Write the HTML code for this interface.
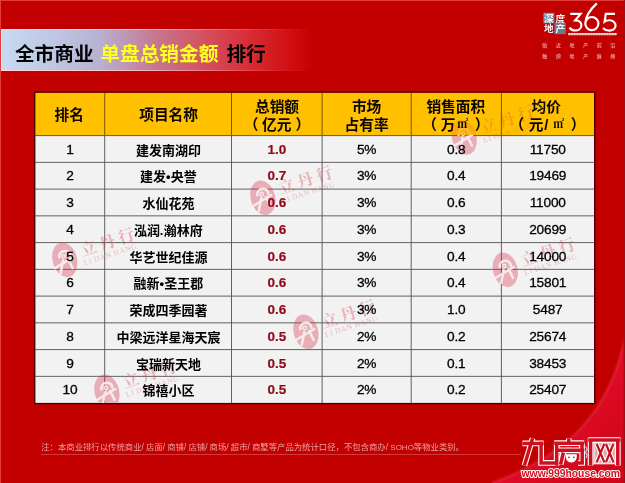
<!DOCTYPE html>
<html lang="zh"><head><meta charset="utf-8"><title>全市商业 单盘总销金额 排行</title>
<style>
html,body{margin:0;padding:0;background:#c20000;}
body{width:625px;height:483px;overflow:hidden;position:relative;font-family:"Liberation Sans",sans-serif;}
#page{position:absolute;left:0;top:0;width:625px;height:483px;overflow:hidden;background:#c20000;}
#page svg{position:absolute;left:0;top:0;}
.banner{position:absolute;left:0.6px;top:28.7px;width:314px;height:42.6px;box-sizing:border-box;
 background:linear-gradient(90deg,rgb(200,218,240) 0%,rgb(190,200,228) 16%,rgb(184,176,208) 32%,rgb(197,122,148) 48%,rgb(212,82,98) 64%,rgb(216,42,50) 80%,rgb(208,10,14) 94%,rgb(194,0,0) 100%);}
.banner:before{content:"";position:absolute;left:0;top:0;right:0;bottom:0;border:1.2px solid;border-right:0;
 border-image:linear-gradient(90deg,rgba(255,215,225,1) 0%,rgba(255,195,205,.95) 40%,rgba(248,120,130,.6) 72%,rgba(235,60,70,.25) 88%,rgba(230,60,60,0) 97%) 1;}
.t{position:absolute;margin:0;color:transparent;font-weight:bold;white-space:nowrap;text-align:center;overflow:hidden;}
.th{font-size:14.7px;line-height:18px;}
.td{font-size:13px;line-height:26px;}
#nums{position:absolute;left:0;top:0;width:625px;height:483px;will-change:transform;}
.n{position:absolute;text-align:center;font-size:13.7px;letter-spacing:-0.2px;color:#000;white-space:nowrap;-webkit-text-stroke:0.3px #000;}
.n.b{font-weight:bold;color:#8e0a1a;font-size:13.5px;letter-spacing:0px;-webkit-text-stroke:0.2px #8e0a1a;}
</style></head><body>
<div id="page">
<svg width="625" height="483" viewBox="0 0 625 483"><defs><filter id="bl2"><feGaussianBlur stdDeviation="0.8"/></filter>
<linearGradient id="sw" x1="0.15" y1="0.1" x2="1" y2="1"><stop offset="0" stop-color="#ee1432" stop-opacity="1"/><stop offset="0.45" stop-color="#e20c28" stop-opacity="0.95"/><stop offset="1" stop-color="#d0061a" stop-opacity="0.85"/></linearGradient>
</defs>
<rect width="625" height="483" fill="#c20000"/>
<path d="M625 337 C 618 372, 604 404, 580 429 C 554 456, 522 472, 492 483 L625 483 Z" fill="url(#sw)"/><path d="M625 337 C 618 372, 604 404, 580 429 C 554 456, 522 472, 492 483" fill="none" stroke="#f05060" stroke-width="1.6" opacity="0.5" filter="url(#bl2)"/>
<rect x="0" y="0" width="625" height="1" fill="#e23c3c"/>
<rect x="0" y="0" width="1" height="483" fill="#e23c3c"/>
<rect x="623.6" y="0" width="1.4" height="483" fill="#99101a"/>
<rect x="41" y="454.1" width="480" height="0.9" fill="#e05050" opacity="0.8"/>
</svg>
<div class="banner"></div>
<svg width="625" height="483" viewBox="0 0 625 483"><rect x="35.20" y="92.60" width="558.80" height="43.00" fill="#ffc000"/><rect x="35.20" y="135.60" width="558.80" height="267.50" fill="#f2f2f2"/><line x1="104.70" y1="92.60" x2="104.70" y2="135.60" stroke="#6e5200" stroke-width="0.95"/><line x1="104.70" y1="135.60" x2="104.70" y2="403.10" stroke="#585858" stroke-width="0.95"/><line x1="231.50" y1="92.60" x2="231.50" y2="135.60" stroke="#6e5200" stroke-width="0.95"/><line x1="231.50" y1="135.60" x2="231.50" y2="403.10" stroke="#585858" stroke-width="0.95"/><line x1="322.10" y1="92.60" x2="322.10" y2="135.60" stroke="#6e5200" stroke-width="0.95"/><line x1="322.10" y1="135.60" x2="322.10" y2="403.10" stroke="#585858" stroke-width="0.95"/><line x1="411.20" y1="92.60" x2="411.20" y2="135.60" stroke="#6e5200" stroke-width="0.95"/><line x1="411.20" y1="135.60" x2="411.20" y2="403.10" stroke="#585858" stroke-width="0.95"/><line x1="501.40" y1="92.60" x2="501.40" y2="135.60" stroke="#6e5200" stroke-width="0.95"/><line x1="501.40" y1="135.60" x2="501.40" y2="403.10" stroke="#585858" stroke-width="0.95"/><line x1="35.20" y1="135.60" x2="594.00" y2="135.60" stroke="#585858" stroke-width="0.95"/><line x1="35.20" y1="162.35" x2="594.00" y2="162.35" stroke="#585858" stroke-width="0.95"/><line x1="35.20" y1="189.10" x2="594.00" y2="189.10" stroke="#585858" stroke-width="0.95"/><line x1="35.20" y1="215.85" x2="594.00" y2="215.85" stroke="#585858" stroke-width="0.95"/><line x1="35.20" y1="242.60" x2="594.00" y2="242.60" stroke="#585858" stroke-width="0.95"/><line x1="35.20" y1="269.35" x2="594.00" y2="269.35" stroke="#585858" stroke-width="0.95"/><line x1="35.20" y1="296.10" x2="594.00" y2="296.10" stroke="#585858" stroke-width="0.95"/><line x1="35.20" y1="322.85" x2="594.00" y2="322.85" stroke="#585858" stroke-width="0.95"/><line x1="35.20" y1="349.60" x2="594.00" y2="349.60" stroke="#585858" stroke-width="0.95"/><line x1="35.20" y1="376.35" x2="594.00" y2="376.35" stroke="#585858" stroke-width="0.95"/><rect x="34.60" y="92.00" width="560.20" height="311.60" fill="none" stroke="#4a0000" stroke-width="1.4"/><clipPath id="tc"><rect x="35.20" y="135.60" width="558.80" height="267.00"/></clipPath><clipPath id="th"><rect x="35.20" y="92.60" width="558.80" height="43.00"/></clipPath><g clip-path="url(#tc)"><g fill="#d7324a" fill-opacity="0.36"><g transform="translate(464.3 136.6) rotate(-18)"><use href="#wm"/><use href="#wml"/></g><use href="#wme" x="464.3" y="136.6"/><g transform="translate(263.0 197.0) rotate(-18)"><use href="#wm"/><use href="#wml"/></g><use href="#wme" x="263.0" y="197.0"/><g transform="translate(64.9 259.1) rotate(-18)"><use href="#wm"/><use href="#wml"/></g><use href="#wme" x="64.9" y="259.1"/><g transform="translate(505.4 269.0) rotate(-18)"><use href="#wm"/><use href="#wml"/></g><use href="#wme" x="505.4" y="269.0"/><g transform="translate(306.0 331.0) rotate(-18)"><use href="#wm"/><use href="#wml"/></g><use href="#wme" x="306.0" y="331.0"/><g transform="translate(107.0 391.0) rotate(-18)"><use href="#wm"/><use href="#wml"/></g><use href="#wme" x="107.0" y="391.0"/></g><g opacity="0.9"><use href="#wmw" x="464.3" y="136.6"/><use href="#wmw" x="263.0" y="197.0"/><use href="#wmw" x="64.9" y="259.1"/><use href="#wmw" x="505.4" y="269.0"/><use href="#wmw" x="306.0" y="331.0"/><use href="#wmw" x="107.0" y="391.0"/></g></g><g clip-path="url(#th)"><g fill="#e04030" fill-opacity="0.17"><g transform="translate(464.3 136.6) rotate(-18)"><use href="#wm"/><use href="#wml"/></g><use href="#wme" x="464.3" y="136.6"/></g><g fill="#e04030" fill-opacity="0.14"><g transform="translate(464.3 136.6) rotate(-18)"><use href="#wm"/><use href="#wml"/></g></g><g opacity="0.25"><use href="#wmw" x="464.3" y="136.6"/></g></g></svg>

<div id="nums">
<h1 class="t" style="left:14px;top:41px;font-size:19.6px">全市商业 单盘总销金额 排行</h1>
<div class="t th" style="left:35.2px;top:92.6px;width:69.5px;height:43.0px">排名</div>
<div class="t th" style="left:104.7px;top:92.6px;width:126.8px;height:43.0px">项目名称</div>
<div class="t th" style="left:231.5px;top:92.6px;width:90.6px;height:43.0px">总销额<br>（亿元）</div>
<div class="t th" style="left:322.1px;top:92.6px;width:89.1px;height:43.0px">市场<br>占有率</div>
<div class="t th" style="left:411.2px;top:92.6px;width:90.2px;height:43.0px">销售面积<br>（万㎡）</div>
<div class="t th" style="left:501.4px;top:92.6px;width:92.6px;height:43.0px">均价<br>（元/㎡）</div>
<div class="n" style="left:35.2px;top:135.6px;width:69.5px;height:26.8px;line-height:27.9px">1</div>
<div class="t td" style="left:104.7px;top:135.6px;width:126.8px;height:26.8px">建发南湖印</div>
<div class="n b" style="left:231.5px;top:135.6px;width:90.6px;height:26.8px;line-height:27.9px">1.0</div>
<div class="n" style="left:322.1px;top:135.6px;width:89.1px;height:26.8px;line-height:27.9px">5%</div>
<div class="n" style="left:411.2px;top:135.6px;width:90.2px;height:26.8px;line-height:27.9px">0.8</div>
<div class="n" style="left:501.4px;top:135.6px;width:92.6px;height:26.8px;line-height:27.9px">11750</div>
<div class="n" style="left:35.2px;top:162.3px;width:69.5px;height:26.8px;line-height:27.9px">2</div>
<div class="t td" style="left:104.7px;top:162.3px;width:126.8px;height:26.8px">建发•央誉</div>
<div class="n b" style="left:231.5px;top:162.3px;width:90.6px;height:26.8px;line-height:27.9px">0.7</div>
<div class="n" style="left:322.1px;top:162.3px;width:89.1px;height:26.8px;line-height:27.9px">3%</div>
<div class="n" style="left:411.2px;top:162.3px;width:90.2px;height:26.8px;line-height:27.9px">0.4</div>
<div class="n" style="left:501.4px;top:162.3px;width:92.6px;height:26.8px;line-height:27.9px">19469</div>
<div class="n" style="left:35.2px;top:189.1px;width:69.5px;height:26.8px;line-height:27.9px">3</div>
<div class="t td" style="left:104.7px;top:189.1px;width:126.8px;height:26.8px">水仙花苑</div>
<div class="n b" style="left:231.5px;top:189.1px;width:90.6px;height:26.8px;line-height:27.9px">0.6</div>
<div class="n" style="left:322.1px;top:189.1px;width:89.1px;height:26.8px;line-height:27.9px">3%</div>
<div class="n" style="left:411.2px;top:189.1px;width:90.2px;height:26.8px;line-height:27.9px">0.6</div>
<div class="n" style="left:501.4px;top:189.1px;width:92.6px;height:26.8px;line-height:27.9px">11000</div>
<div class="n" style="left:35.2px;top:215.8px;width:69.5px;height:26.8px;line-height:27.9px">4</div>
<div class="t td" style="left:104.7px;top:215.8px;width:126.8px;height:26.8px">泓润.瀚林府</div>
<div class="n b" style="left:231.5px;top:215.8px;width:90.6px;height:26.8px;line-height:27.9px">0.6</div>
<div class="n" style="left:322.1px;top:215.8px;width:89.1px;height:26.8px;line-height:27.9px">3%</div>
<div class="n" style="left:411.2px;top:215.8px;width:90.2px;height:26.8px;line-height:27.9px">0.3</div>
<div class="n" style="left:501.4px;top:215.8px;width:92.6px;height:26.8px;line-height:27.9px">20699</div>
<div class="n" style="left:35.2px;top:242.6px;width:69.5px;height:26.8px;line-height:27.9px">5</div>
<div class="t td" style="left:104.7px;top:242.6px;width:126.8px;height:26.8px">华艺世纪佳源</div>
<div class="n b" style="left:231.5px;top:242.6px;width:90.6px;height:26.8px;line-height:27.9px">0.6</div>
<div class="n" style="left:322.1px;top:242.6px;width:89.1px;height:26.8px;line-height:27.9px">3%</div>
<div class="n" style="left:411.2px;top:242.6px;width:90.2px;height:26.8px;line-height:27.9px">0.4</div>
<div class="n" style="left:501.4px;top:242.6px;width:92.6px;height:26.8px;line-height:27.9px">14000</div>
<div class="n" style="left:35.2px;top:269.4px;width:69.5px;height:26.8px;line-height:27.9px">6</div>
<div class="t td" style="left:104.7px;top:269.4px;width:126.8px;height:26.8px">融新•圣王郡</div>
<div class="n b" style="left:231.5px;top:269.4px;width:90.6px;height:26.8px;line-height:27.9px">0.6</div>
<div class="n" style="left:322.1px;top:269.4px;width:89.1px;height:26.8px;line-height:27.9px">3%</div>
<div class="n" style="left:411.2px;top:269.4px;width:90.2px;height:26.8px;line-height:27.9px">0.4</div>
<div class="n" style="left:501.4px;top:269.4px;width:92.6px;height:26.8px;line-height:27.9px">15801</div>
<div class="n" style="left:35.2px;top:296.1px;width:69.5px;height:26.8px;line-height:27.9px">7</div>
<div class="t td" style="left:104.7px;top:296.1px;width:126.8px;height:26.8px">荣成四季园著</div>
<div class="n b" style="left:231.5px;top:296.1px;width:90.6px;height:26.8px;line-height:27.9px">0.6</div>
<div class="n" style="left:322.1px;top:296.1px;width:89.1px;height:26.8px;line-height:27.9px">3%</div>
<div class="n" style="left:411.2px;top:296.1px;width:90.2px;height:26.8px;line-height:27.9px">1.0</div>
<div class="n" style="left:501.4px;top:296.1px;width:92.6px;height:26.8px;line-height:27.9px">5487</div>
<div class="n" style="left:35.2px;top:322.9px;width:69.5px;height:26.8px;line-height:27.9px">8</div>
<div class="t td" style="left:104.7px;top:322.9px;width:126.8px;height:26.8px">中梁远洋星海天宸</div>
<div class="n b" style="left:231.5px;top:322.9px;width:90.6px;height:26.8px;line-height:27.9px">0.5</div>
<div class="n" style="left:322.1px;top:322.9px;width:89.1px;height:26.8px;line-height:27.9px">2%</div>
<div class="n" style="left:411.2px;top:322.9px;width:90.2px;height:26.8px;line-height:27.9px">0.2</div>
<div class="n" style="left:501.4px;top:322.9px;width:92.6px;height:26.8px;line-height:27.9px">25674</div>
<div class="n" style="left:35.2px;top:349.6px;width:69.5px;height:26.8px;line-height:27.9px">9</div>
<div class="t td" style="left:104.7px;top:349.6px;width:126.8px;height:26.8px">宝瑞新天地</div>
<div class="n b" style="left:231.5px;top:349.6px;width:90.6px;height:26.8px;line-height:27.9px">0.5</div>
<div class="n" style="left:322.1px;top:349.6px;width:89.1px;height:26.8px;line-height:27.9px">2%</div>
<div class="n" style="left:411.2px;top:349.6px;width:90.2px;height:26.8px;line-height:27.9px">0.1</div>
<div class="n" style="left:501.4px;top:349.6px;width:92.6px;height:26.8px;line-height:27.9px">38453</div>
<div class="n" style="left:35.2px;top:376.4px;width:69.5px;height:26.8px;line-height:27.9px">10</div>
<div class="t td" style="left:104.7px;top:376.4px;width:126.8px;height:26.8px">锦禧小区</div>
<div class="n b" style="left:231.5px;top:376.4px;width:90.6px;height:26.8px;line-height:27.9px">0.5</div>
<div class="n" style="left:322.1px;top:376.4px;width:89.1px;height:26.8px;line-height:27.9px">2%</div>
<div class="n" style="left:411.2px;top:376.4px;width:90.2px;height:26.8px;line-height:27.9px">0.2</div>
<div class="n" style="left:501.4px;top:376.4px;width:92.6px;height:26.8px;line-height:27.9px">25407</div>
<p class="t" style="left:41px;top:440px;font-size:7.6px">注：本商业排行以传统商业/店面/商铺/店铺/商场/超市/商墅等产品为统计口径，不包含商办/SOHO等物业类别。</p>
</div>
<svg width="625" height="483" viewBox="0 0 625 483"><defs><filter id="bl" x="-5%" y="-20%" width="110%" height="140%"><feGaussianBlur stdDeviation="0.7"/></filter><g id="wm"><text x="17.53 37.27 57.22" y="3" font-family="'Liberation Serif','Noto Serif CJK SC',serif" font-weight="bold" font-size="16.5">立丹行</text></g><g id="wme"><ellipse cx="-0.3" cy="0.7" rx="12.2" ry="17.6" transform="rotate(-15)"/></g><g id="wmw" transform="translate(-0.4 0.9)" fill="none" stroke="#f6f2f2" stroke-width="2.5" stroke-linecap="round" stroke-linejoin="round"><path d="M-9.5 8.1 L8.6 -2.9"/><path d="M-5.3 -2.6 C-5.6 -6 -3.6 -8.8 -0.3 -9.1 C2.6 -9.3 5.2 -8 5.9 -4.2"/><circle cx="-0.9" cy="-3.9" r="1.7" stroke-width="1.5"/><path d="M-1.4 0.2 L-3.8 13.2"/><path d="M3.6 -0.8 L8 8"/></g><g id="wml"><text x="17 22.27 27.68 33.78 39.87 48.17 54.26 60.35 66.45" y="12" font-family="'Liberation Serif',serif" font-size="7.39">LIDANHANG</text></g></defs><g fill="#000" font-family="'Liberation Sans','Noto Sans CJK SC',sans-serif" font-weight="bold" font-size="19.7"><text x="14.9" y="60.9">全市商业</text></g><g fill="#b08a10" opacity="0.75" filter="url(#bl)" font-family="'Liberation Sans','Noto Sans CJK SC',sans-serif" font-weight="bold" font-size="19.7"><text x="100.3" y="60.9">单盘总销金额</text></g><g fill="#ffff28" font-family="'Liberation Sans','Noto Sans CJK SC',sans-serif" font-weight="bold" font-size="19.7"><text x="100.3" y="60.9">单盘总销金额</text></g><g fill="#000" font-family="'Liberation Sans','Noto Sans CJK SC',sans-serif" font-weight="bold" font-size="19.7"><text x="226.4" y="60.9">排行</text></g><g fill="#0a0500" font-family="'Liberation Sans','Noto Sans CJK SC',sans-serif" font-weight="bold" font-size="14.7"><text x="54.6" y="120.3">排名</text><text x="139.2" y="120.3">项目名称</text><text x="254.95" y="112">总销额</text><text x="243.71 262 276.7 295.39" y="130">（亿元）</text><text x="351.9" y="112">市场</text><text x="344.55" y="130">占有率</text><text x="426.4" y="112">销售面积</text><text x="422.31 440.65" y="130">（万</text><text x="457.29" y="127.6" font-family="'Liberation Serif','Noto Serif CJK SC',serif" font-size="11">㎡</text><text x="474.69" y="130">）</text><text x="531.5" y="112">均价</text><text x="509.51 528.65" y="130">（元</text><text x="544.31" y="129.5">/</text><text x="553.19" y="127.6" font-family="'Liberation Serif','Noto Serif CJK SC',serif" font-size="11">㎡</text><text x="570.79" y="130">）</text></g><g fill="#000" font-family="'Liberation Sans','Noto Sans CJK SC',sans-serif" font-weight="bold" font-size="13"><text x="135.9" y="154.57">建发南湖印</text><text y="181.32"><tspan x="140.1">建发</tspan><tspan x="166.1">•</tspan><tspan x="170.7">央誉</tspan></text><text x="142.4" y="208.07">水仙花苑</text><text y="234.82"><tspan x="134.1">泓润</tspan><tspan x="159.8">.</tspan><tspan x="163.7">瀚林府</tspan></text><text x="129.4" y="261.58">华艺世纪佳源</text><text y="288.33"><tspan x="133.6">融新</tspan><tspan x="159.6">•</tspan><tspan x="164.2">圣王郡</tspan></text><text x="129.4" y="315.08">荣成四季园著</text><text x="116.4" y="341.83">中梁远洋星海天宸</text><text x="135.9" y="368.58">宝瑞新天地</text><text x="142.4" y="395.33">锦禧小区</text></g><g fill="#eea0a0" font-family="'Liberation Sans','Noto Sans CJK SC',sans-serif" font-size="8.37"><text y="450.2"><tspan x="41.2">注：本商业排行以传统商业/</tspan><tspan x="146.08">店面/</tspan><tspan x="167.25">商铺/</tspan><tspan x="188.43">店铺/</tspan><tspan x="209.6">商场/</tspan><tspan x="230.78">超市/</tspan><tspan x="251.96">商墅等产品为统计口径，不包含商办/</tspan><tspan x="390.31" font-size="8">SOHO</tspan><tspan x="413.82">等物业类别。</tspan></text></g><rect x="543.4" y="12.8" width="11" height="10.4" fill="#7d8fa6"/><rect x="554.4" y="23.2" width="11.3" height="11" fill="#6f7a90"/><g fill="#fff" fill-opacity="0.95" font-family="'Liberation Sans','Noto Sans CJK SC',sans-serif" font-weight="bold" font-size="9.6"><text x="544.11 555.42" y="21.6">深度</text><text x="544.1 555.59" y="32.4">地产</text></g><g fill="none" stroke="#fff" stroke-width="2.15" stroke-linecap="butt" stroke-linejoin="miter"><path d="M570.2 13.9 H580.6 L575.2 20.4 C579.8 20.2 581.6 23 581.4 25.6 C581.1 29 578 30.6 575.2 30.5 C572.6 30.4 570.6 29.3 569.6 27.6"/><path d="M596.8 3.4 C591.2 8.6 585.4 16 585.3 23.6 A6.55 6.55 0 1 0 598.4 23.6 A6.55 6.55 0 1 0 585.3 23.6"/><path d="M615 13.9 H605.8 L604.6 21.6 C607 19.9 611.2 19.6 613.6 21.6 C616.2 23.7 616.2 27.6 613.6 29.4 C610.6 31.4 605.6 30.8 603 28"/></g><rect x="568.2" y="33" width="48.4" height="2.2" fill="#fff" fill-opacity="0.92"/><path d="M570 34.1 H615" stroke="#b05050" stroke-width="0.9" stroke-dasharray="1.6 1.1" fill="none" opacity="0.8"/><g fill="#f8b0b0" fill-opacity="0.95" font-family="'Liberation Sans','Noto Sans CJK SC',sans-serif" font-weight="500" font-size="5"><text x="542.31 555.89 569.5 583.19 596.7 610.33" y="47.3">贴近地产前沿</text><text x="542.3 555.9 569.5 583.19 596.7 610.33" y="57.8">触摸地产脉搏</text></g><path d="M522.4 443.4 H543.6 M532.6 438.2 L524.4 465.6 M541.1 441.6 V462.9 H556 M568.8 438.4 V443 M554.2 443.2 H584.2 M556.7 443.2 V465.4 M582 443.2 V450.3 M556.7 450.3 H584.2 M563.4 452.5 L560.6 464.4 M582.2 450.3 V463 H578 M590.6 438.3 V465.5 M588.2 440.1 H620.4 M617.8 438.3 V465.5" fill="none" stroke="#fff" stroke-width="5.7" stroke-linecap="butt" stroke-linejoin="miter"/><rect x="594" y="442.6" width="21.4" height="21.2" fill="#eaa8b0" stroke="#fff" stroke-width="1"/><path d="M585.6 446.5 l1.6 3 l-1.8 3 l1.8 2.6 l-1.2 3" fill="none" stroke="#f6d0d4" stroke-width="1.1"/><path d="M596.8 444 L604.2 462.2 M604.2 444 L596.8 462.2 M606 444 L613.4 462.2 M613.4 444 L606 462.2" fill="none" stroke="#fff" stroke-width="4.4" stroke-linecap="butt"/><path d="M566.6 455 H576 V457 A4.7 4.7 0 0 1 566.6 457Z" fill="#fff" stroke="#fff" stroke-width="1.6"/><path d="M522.4 443.4 H543.6 M532.6 438.2 L524.4 465.6 M541.1 441.6 V462.9 H556 M568.8 438.4 V443 M554.2 443.2 H584.2 M556.7 443.2 V465.4 M582 443.2 V450.3 M556.7 450.3 H584.2 M563.4 452.5 L560.6 464.4 M582.2 450.3 V463 H578 M590.6 438.3 V465.5 M588.2 440.1 H620.4 M617.8 438.3 V465.5" fill="none" stroke="#cc1020" stroke-width="3.5" stroke-linecap="butt" stroke-linejoin="miter"/><path d="M596.8 444 L604.2 462.2 M604.2 444 L596.8 462.2 M606 444 L613.4 462.2 M613.4 444 L606 462.2" fill="none" stroke="#c01020" stroke-width="2.2" stroke-linecap="butt"/><circle cx="568.9" cy="457.4" r="0.8" fill="#702020"/><circle cx="573.9" cy="457.4" r="0.8" fill="#702020"/><path d="M561.5 446.8 H565.5 M571.5 446.8 H575.5" stroke="#b02030" stroke-width="1.1" fill="none"/><text x="570.8" y="477.2" text-anchor="middle" font-family="Liberation Sans, sans-serif" font-weight="bold" font-size="10.4" textLength="98.5" lengthAdjust="spacingAndGlyphs" fill="#d01020" stroke="#fff" stroke-width="1.9" stroke-linejoin="round" paint-order="stroke">www.999house.com</text></svg>
</div>
</body></html>
